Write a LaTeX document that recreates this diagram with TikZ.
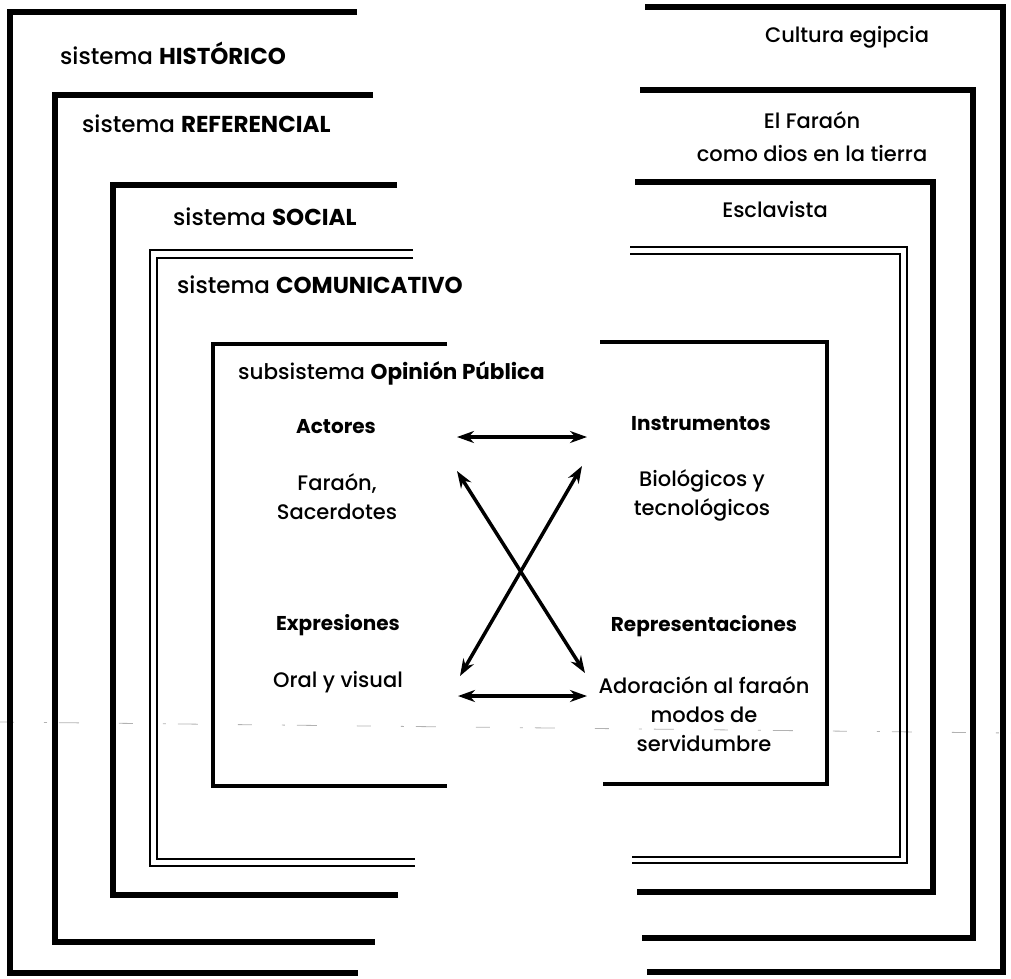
\documentclass[tikz,border=0pt]{standalone}
\usepackage{fontspec}
\setmainfont{Poppins}[UprightFont={* Medium}, BoldFont={* Bold}]
\usetikzlibrary{arrows.meta}
\begin{document}
\begin{tikzpicture}[x=1pt,y=-1pt,
  frame/.style={line width=5.5pt, line join=miter},
  midframe/.style={line width=4pt, line join=miter},
  thinframe/.style={line width=2.2pt, line join=miter},
  syslabel/.style={anchor=west, font=\fontsize{23}{26}\selectfont, inner sep=0pt},
  txt/.style={align=center, font=\fontsize{21}{29}\selectfont, inner sep=0pt},
  head/.style={font=\fontsize{20}{24}\selectfont\bfseries, inner sep=0pt},
  link/.style={line width=3.5pt, {Stealth[length=17pt,width=12pt]}-{Stealth[length=17pt,width=12pt]}},
  scan/.style={gray!60, line width=0.8pt, dash pattern=on 14pt off 30pt on 3pt off 12pt on 20pt off 40pt}
]
\useasboundingbox (0,0) rectangle (1011,978);

% faint horizontal rule across the page
\coordinate (sl) at (0,722);
\coordinate (sr) at (1011,733);
\draw[scan] (sl) -- (sr);

% left halves of the nested systems
\draw[frame] (357,12) -- (10,12) -- (10,973) -- (358,973);
\draw[frame] (373,95) -- (55,95) -- (55,942) -- (375,942);
\draw[frame] (397,185) -- (113,185) -- (113,895) -- (398,895);
\draw[thinframe] (413,250) -- (150,250) -- (150,866) -- (415,866);
\draw[thinframe] (413,258) -- (157,258) -- (157,859) -- (415,859);
\draw[midframe] (447,344) -- (213,344) -- (213,786) -- (447,786);

% right halves of the nested systems
\draw[frame] (645,7) -- (1003,7) -- (1003,972) -- (647,972);
\draw[frame] (640,90) -- (973,90) -- (973,938) -- (642,938);
\draw[frame] (635,182) -- (933,182) -- (933,892) -- (637,892);
\draw[thinframe] (630,247) -- (907,247) -- (907,863) -- (632,863);
\draw[thinframe] (630,254) -- (900,254) -- (900,857) -- (632,857);
\draw[midframe] (600,342) -- (827,342) -- (827,784) -- (603,784);

% system names
\node[syslabel] (hist) at (60,53) {sistema \textbf{HISTÓRICO}};
\node[syslabel] (ref) at (82,124) {sistema \textbf{REFERENCIAL}};
\node[syslabel] (soc) at (173,217) {sistema \textbf{SOCIAL}};
\node[syslabel] (com) at (177,285) {sistema \textbf{COMUNICATIVO}};
\node[syslabel, font=\fontsize{21.5}{26}\selectfont] (op) at (238,373) {subsistema \textbf{Opinión Pública}};

% system contents
\node[txt] (cult) at (847,37) {Cultura egipcia};
\node[txt, font=\fontsize{21}{33}\selectfont] (far) at (812,137) {El Faraón\\como dios en la tierra};
\node[txt] (escl) at (775,210) {Esclavista};

% public opinion components
\node[head] (act) at (336,427) {Actores};
\node[txt] (actv) at (337,497) {Faraón,\\Sacerdotes};
\node[head] (expr) at (338,625) {Expresiones};
\node[txt] (exprv) at (338,682) {Oral y visual};
\node[head] (inst) at (701,424) {Instrumentos};
\node[txt] (instv) at (702,495) {Biológicos y\\tecnológicos};
\node[head] (rep) at (704,626) {Representaciones};
\node[txt] (repv) at (704,714) {Adoración al faraón\\modos de\\servidumbre};

% relations between components
\coordinate (h1l) at (457,437);
\coordinate (h1r) at (587,437);
\coordinate (h2l) at (458,696);
\coordinate (h2r) at (587,696);
\coordinate (d1a) at (457,471);
\coordinate (d1b) at (585,673);
\coordinate (d2a) at (460,676);
\coordinate (d2b) at (582,466);
\draw[link] (h1l) -- (h1r);
\draw[link] (h2l) -- (h2r);
\draw[link] (d1a) -- (d1b);
\draw[link] (d2a) -- (d2b);
\end{tikzpicture}
\end{document}
